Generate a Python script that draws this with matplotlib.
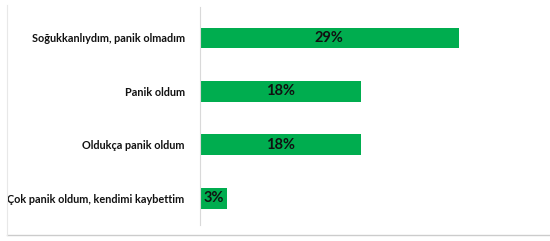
import matplotlib
matplotlib.use("Agg")
import matplotlib.pyplot as plt
from matplotlib.lines import Line2D

plt.rcParams['font.family'] = ['Lato', 'DejaVu Sans']

categories = ['Soğukkanlıydım, panik olmadım', 'Panik oldum',
              'Oldukça panik oldum', 'Çok panik oldum, kendimi kaybettim']
values = [29, 18, 18, 3]
labels = ['29%', '18%', '18%', '3%']

fig = plt.figure(figsize=(5.5, 2.41), dpi=100)
ax = fig.add_axes([200/550, 1 - 225/241, 330/550, 218/241])

ypos = list(range(len(categories)))
bars = ax.barh(ypos, values, height=0.39, color='#00ad4f')
for b, lab in zip(bars, labels):
    ax.text(b.get_x() + b.get_width() / 2, b.get_y() + b.get_height() / 2, lab,
            ha='center', va='center', fontsize=10.5, fontweight='bold', color='#111111')

ax.set_ylim(3.5, -0.58)
ax.set_xlim(0, 37)
ax.set_yticks(ypos)
ax.set_yticklabels(categories, fontsize=7.8, fontweight='bold', color='#111111')
ax.tick_params(axis='y', length=0, pad=11)
ax.set_xticks([])
for s in ['top', 'right', 'bottom']:
    ax.spines[s].set_visible(False)
ax.spines['left'].set_color('#d9d9d9')
ax.spines['left'].set_linewidth(0.8)

# outer frame lines
fig.add_artist(Line2D([7/550, 550/550], [1 - 235/241] * 2, color='#cccccc', lw=1))
fig.add_artist(Line2D([7/550] * 2, [1 - 235/241, 1 - 5/241], color='#e8e8e8', lw=0.8))

fig.savefig('out.png', dpi=100)
